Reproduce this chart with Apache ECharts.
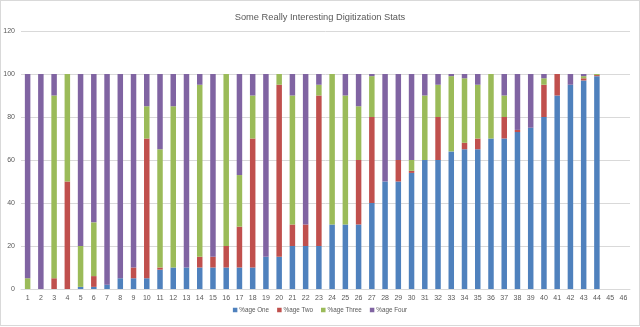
<!DOCTYPE html>
<html>
<head>
<meta charset="utf-8">
<script src="https://cdn.jsdelivr.net/npm/echarts@6/dist/echarts.min.js"></script>
<style>
html,body{margin:0;padding:0;background:#fff;}
#wrap{position:absolute;left:0;top:0;width:638px;height:324px;border:1px solid #d9d9d9;}
#c{width:640px;height:327px;position:absolute;left:0;top:0;}
</style>
</head>
<body>
<div id="wrap"></div>
<div id="c"></div>
<script>
const categories = ['1','2','3','4','5','6','7','8','9','10','11','12','13','14','15','16','17','18','19','20','21','22','23','24','25','26','27','28','29','30','31','32','33','34','35','36','37','38','39','40','41','42','43','44','45','46'];
const ageOne   = [0,0,0,0,1,1,2,5,5,5,9,10,10,10,10,10,10,10,15,15,20,20,20,30,30,30,40,50,50,54,60,60,64,65,65,70,70,73,75,80,90,95,97,99,0,0];
const ageTwo   = [0,0,5,50,0,5,0,0,5,65,1,0,0,5,5,10,19,60,0,80,10,10,70,0,0,30,40,0,10,1,0,20,0,3,5,0,10,1,0,15,10,0,1,0.5,0,0];
const ageThree = [5,0,85,50,19,25,0,0,0,15,55,75,0,80,0,80,24,20,0,5,60,0,5,70,60,25,19,0,0,5,30,15,35,30,25,30,10,0,0,3,0,0,1,0.5,0,0];
const ageFour  = [95,100,10,0,80,69,98,95,90,15,35,15,90,5,85,0,47,10,85,0,10,70,5,0,10,15,1,50,40,40,10,5,1,2,5,0,10,26,25,2,0,5,1,0,0,0];
const seriesNames = ['%age One','%age Two','%age Three','%age Four'];
const colors = ['#4F81BD','#C0504D','#9BBB59','#8064A2'];
const yTicks = {min:0, max:120, interval:20};

const chart = echarts.init(document.getElementById('c'), null, {renderer:'canvas'});
const font = '"Liberation Sans", Arial, sans-serif';
const mk = (name, data, i) => ({
  name, type:'bar', stack:'total', data,
  barWidth: 5.5,
  itemStyle:{color:colors[i]},
  emphasis:{disabled:true}
});
chart.setOption({
  animation:false,
  textStyle:{fontFamily:font},
  title:{text:'Some Really Interesting Digitization Stats', left:'center', top:8,
    textStyle:{fontSize:9.3, fontWeight:'normal', color:'#595959', fontFamily:font}},
  legend:{bottom:9, left:'center', itemWidth:4.5, itemHeight:4.5, itemGap:8,
    icon:'rect',
    textStyle:{fontSize:6.3, color:'#595959', fontFamily:font, padding:[0,0,0,-3]},
    data:seriesNames},
  grid:{left:21, right:10, top:31, bottom:38, containLabel:false},
  xAxis:{type:'category', data:categories,
    axisLine:{lineStyle:{color:'#d9d9d9'}}, axisTick:{show:false},
    axisLabel:{fontSize:7, color:'#595959', margin:6, interval:0}},
  yAxis:{type:'value', min:yTicks.min, max:yTicks.max, interval:yTicks.interval,
    axisLine:{show:false}, axisTick:{show:false},
    splitLine:{lineStyle:{color:'#d9d9d9'}},
    axisLabel:{fontSize:7, color:'#595959', margin:6}},
  series:[mk(seriesNames[0],ageOne,0),mk(seriesNames[1],ageTwo,1),mk(seriesNames[2],ageThree,2),mk(seriesNames[3],ageFour,3)]
});
</script>
</body>
</html>
